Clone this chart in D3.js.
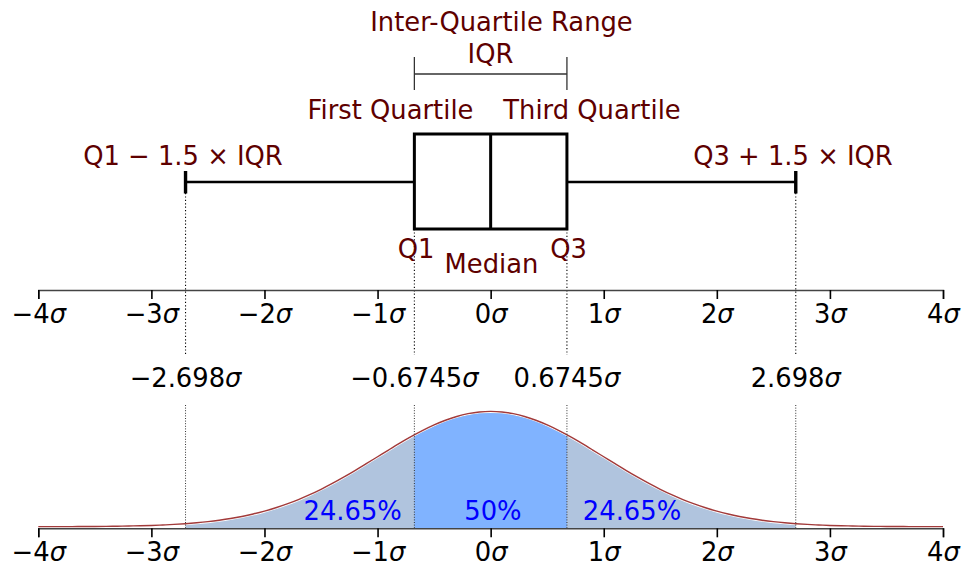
<!DOCTYPE html>
<html>
<head>
<meta charset="utf-8">
<script src="https://cdn.jsdelivr.net/npm/d3@7"></script>
<style>
  html, body { margin: 0; padding: 0; background: #fff; }
  svg { display: block; font-family: "DejaVu Sans", sans-serif; }
</style>
</head>
<body>
<svg id="chart" width="963" height="567"></svg>
<script>
// Axis ticks in units of sigma
const sigmaTicks = [-4, -3, -2, -1, 0, 1, 2, 3, 4];

// Box plot statistics (in sigma): lower whisker, Q1, median, Q3, upper whisker
const whiskerLow = -2.698;
const q1 = -0.6745;
const median = 0;
const q3 = 0.6745;
const whiskerHigh = 2.698;

// Marked positions and their labels
const markerValues = [-2.698, -0.6745, 0.6745, 2.698];
const markerNumbers = ["\u22122.698", "\u22120.6745", "0.6745", "2.698"];

// Share of the distribution in each region
const regionLabels = ["24.65%", "50%", "24.65%"];
const regionCentres = [-1.22, 0.02, 1.25];

// Standard normal density sampled every 0.1 sigma from -4 to 4
const density = [
  0.0001, 0.0002, 0.0003, 0.0004, 0.0006, 0.0009, 0.0012, 0.0017, 0.0024, 0.0033,
  0.0044, 0.0060, 0.0079, 0.0104, 0.0136, 0.0175, 0.0224, 0.0283, 0.0355, 0.0440,
  0.0540, 0.0656, 0.0790, 0.0940, 0.1109, 0.1295, 0.1497, 0.1714, 0.1942, 0.2179,
  0.2420, 0.2661, 0.2897, 0.3123, 0.3332, 0.3521, 0.3683, 0.3814, 0.3910, 0.3970,
  0.3989,
  0.3970, 0.3910, 0.3814, 0.3683, 0.3521, 0.3332, 0.3123, 0.2897, 0.2661, 0.2420,
  0.2179, 0.1942, 0.1714, 0.1497, 0.1295, 0.1109, 0.0940, 0.0790, 0.0656, 0.0540,
  0.0440, 0.0355, 0.0283, 0.0224, 0.0175, 0.0136, 0.0104, 0.0079, 0.0060, 0.0044,
  0.0033, 0.0024, 0.0017, 0.0012, 0.0009, 0.0006, 0.0004, 0.0003, 0.0002, 0.0001
];
const densityPoints = density.map((d, i) => ({ x: -4 + i * 0.1, y: d }));

const MAROON = "#5e0000";
const FONT = 25.8;

const svg = d3.select("#chart");
const x = d3.scaleLinear().domain([-4, 4]).range([38.3, 943]);
const y = d3.scaleLinear().domain([0, 0.3989]).range([528.3, 413]);

// ---------- helpers ----------
function sigmaText(sel, num) {
  sel.text(null);
  sel.append("tspan").text(num);
  sel.append("tspan").attr("font-style", "italic").text("\u03c3");
}
function sigmaFormat(v) {
  return v < 0 ? "\u2212" + Math.abs(v) : String(v);
}
function label(txt, cx, baseline, color) {
  svg.append("text")
    .attr("x", cx).attr("y", baseline)
    .attr("text-anchor", "middle")
    .attr("font-size", FONT)
    .attr("fill", color || MAROON)
    .text(txt);
}
function sigmaAxis(yPos) {
  const g = svg.append("g")
    .attr("transform", `translate(0,${yPos})`)
    .call(d3.axisBottom(x).tickValues(sigmaTicks).tickSizeOuter(0).tickSize(9));
  g.select(".domain").attr("stroke", "#444").attr("stroke-width", 1.4);
  g.selectAll(".tick line").attr("stroke", "#000").attr("stroke-width", 1.6);
  g.selectAll(".tick text")
    .attr("dy", null)
    .attr("y", 33)
    .attr("font-size", FONT)
    .attr("font-family", "DejaVu Sans")
    .attr("fill", "#000")
    .each(function (d) { sigmaText(d3.select(this), sigmaFormat(d)); });
  return g;
}

// ---------- density panel ----------
const defs = svg.append("defs");
defs.append("clipPath").attr("id", "clip-whiskers")
  .append("rect")
  .attr("x", x(whiskerLow)).attr("y", 0)
  .attr("width", x(whiskerHigh) - x(whiskerLow)).attr("height", 567);
defs.append("clipPath").attr("id", "clip-iqr")
  .append("rect")
  .attr("x", x(q1)).attr("y", 0)
  .attr("width", x(q3) - x(q1)).attr("height", 567);

const area = d3.area()
  .x(d => x(d.x)).y0(y(0)).y1(d => y(d.y))
  .curve(d3.curveMonotoneX);
const line = d3.line()
  .x(d => x(d.x)).y(d => y(d.y))
  .curve(d3.curveMonotoneX);

svg.append("path")
  .datum(densityPoints)
  .attr("d", area)
  .attr("fill", "#b0c4de")
  .attr("clip-path", "url(#clip-whiskers)");
svg.append("path")
  .datum(densityPoints)
  .attr("d", area)
  .attr("fill", "#80b3ff")
  .attr("clip-path", "url(#clip-iqr)");

// density outline
svg.append("path")
  .datum(densityPoints)
  .attr("d", line)
  .attr("transform", "translate(0,-1.6)")
  .attr("fill", "none")
  .attr("stroke", "#a23a3a")
  .attr("stroke-width", 1.4);

// region percentages
regionLabels.forEach((t, i) => label(t, x(regionCentres[i]), 520, "#0000ff"));

// ---------- dotted guides ----------
const guideTop = [193, 229, 229, 193];
markerValues.forEach((v, i) => {
  svg.append("line")
    .attr("x1", x(v)).attr("x2", x(v))
    .attr("y1", guideTop[i]).attr("y2", 355)
    .attr("stroke", "#000").attr("stroke-width", 1.1)
    .attr("stroke-dasharray", "1.2,2.2");
  svg.append("line")
    .attr("x1", x(v)).attr("x2", x(v))
    .attr("y1", 405).attr("y2", 528)
    .attr("stroke", "#333").attr("stroke-width", 1)
    .attr("stroke-dasharray", "1,1.6");
});

// ---------- axes ----------
sigmaAxis(290);
sigmaAxis(528.3);

// marker labels between the panels
markerValues.forEach((v, i) => {
  svg.append("text")
    .attr("x", x(v)).attr("y", 386.5)
    .attr("text-anchor", "middle")
    .attr("font-size", FONT)
    .attr("fill", "#000")
    .call(sel => sigmaText(sel, markerNumbers[i]));
});

// ---------- box plot ----------
const boxTop = 134, boxBottom = 229, midY = 182;
svg.append("line")
  .attr("x1", x(whiskerLow)).attr("x2", x(q1))
  .attr("y1", midY).attr("y2", midY)
  .attr("stroke", "#000").attr("stroke-width", 2.4);
svg.append("line")
  .attr("x1", x(q3)).attr("x2", x(whiskerHigh))
  .attr("y1", midY).attr("y2", midY)
  .attr("stroke", "#000").attr("stroke-width", 2.4);
[whiskerLow, whiskerHigh].forEach(v => {
  svg.append("line")
    .attr("x1", x(v)).attr("x2", x(v))
    .attr("y1", 171).attr("y2", 193.5)
    .attr("stroke", "#000").attr("stroke-width", 3.4);
});
svg.append("rect")
  .attr("x", x(q1)).attr("y", boxTop)
  .attr("width", x(q3) - x(q1)).attr("height", boxBottom - boxTop)
  .attr("fill", "none").attr("stroke", "#000").attr("stroke-width", 3);
svg.append("line")
  .attr("x1", x(median)).attr("x2", x(median))
  .attr("y1", boxTop).attr("y2", boxBottom)
  .attr("stroke", "#000").attr("stroke-width", 3);

// IQR bracket
const bracket = svg.append("g").attr("stroke", "#333").attr("stroke-width", 1.3);
bracket.append("line").attr("x1", x(q1)).attr("x2", x(q3)).attr("y1", 74).attr("y2", 74);
bracket.append("line").attr("x1", x(q1)).attr("x2", x(q1)).attr("y1", 57).attr("y2", 90);
bracket.append("line").attr("x1", x(q3)).attr("x2", x(q3)).attr("y1", 57).attr("y2", 90);

// annotations
label("Inter-Quartile Range", 501.5, 31);
label("IQR", 490.5, 63);
label("First Quartile", 390.5, 119);
label("Third Quartile", 592, 119);
label("Q1 \u2212 1.5 \u00d7 IQR", 183, 165);
label("Q3 + 1.5 \u00d7 IQR", 793, 165);
label("Q1", 416, 258);
label("Median", 491.5, 272.5);
label("Q3", 568.5, 258);
</script>
</body>
</html>
